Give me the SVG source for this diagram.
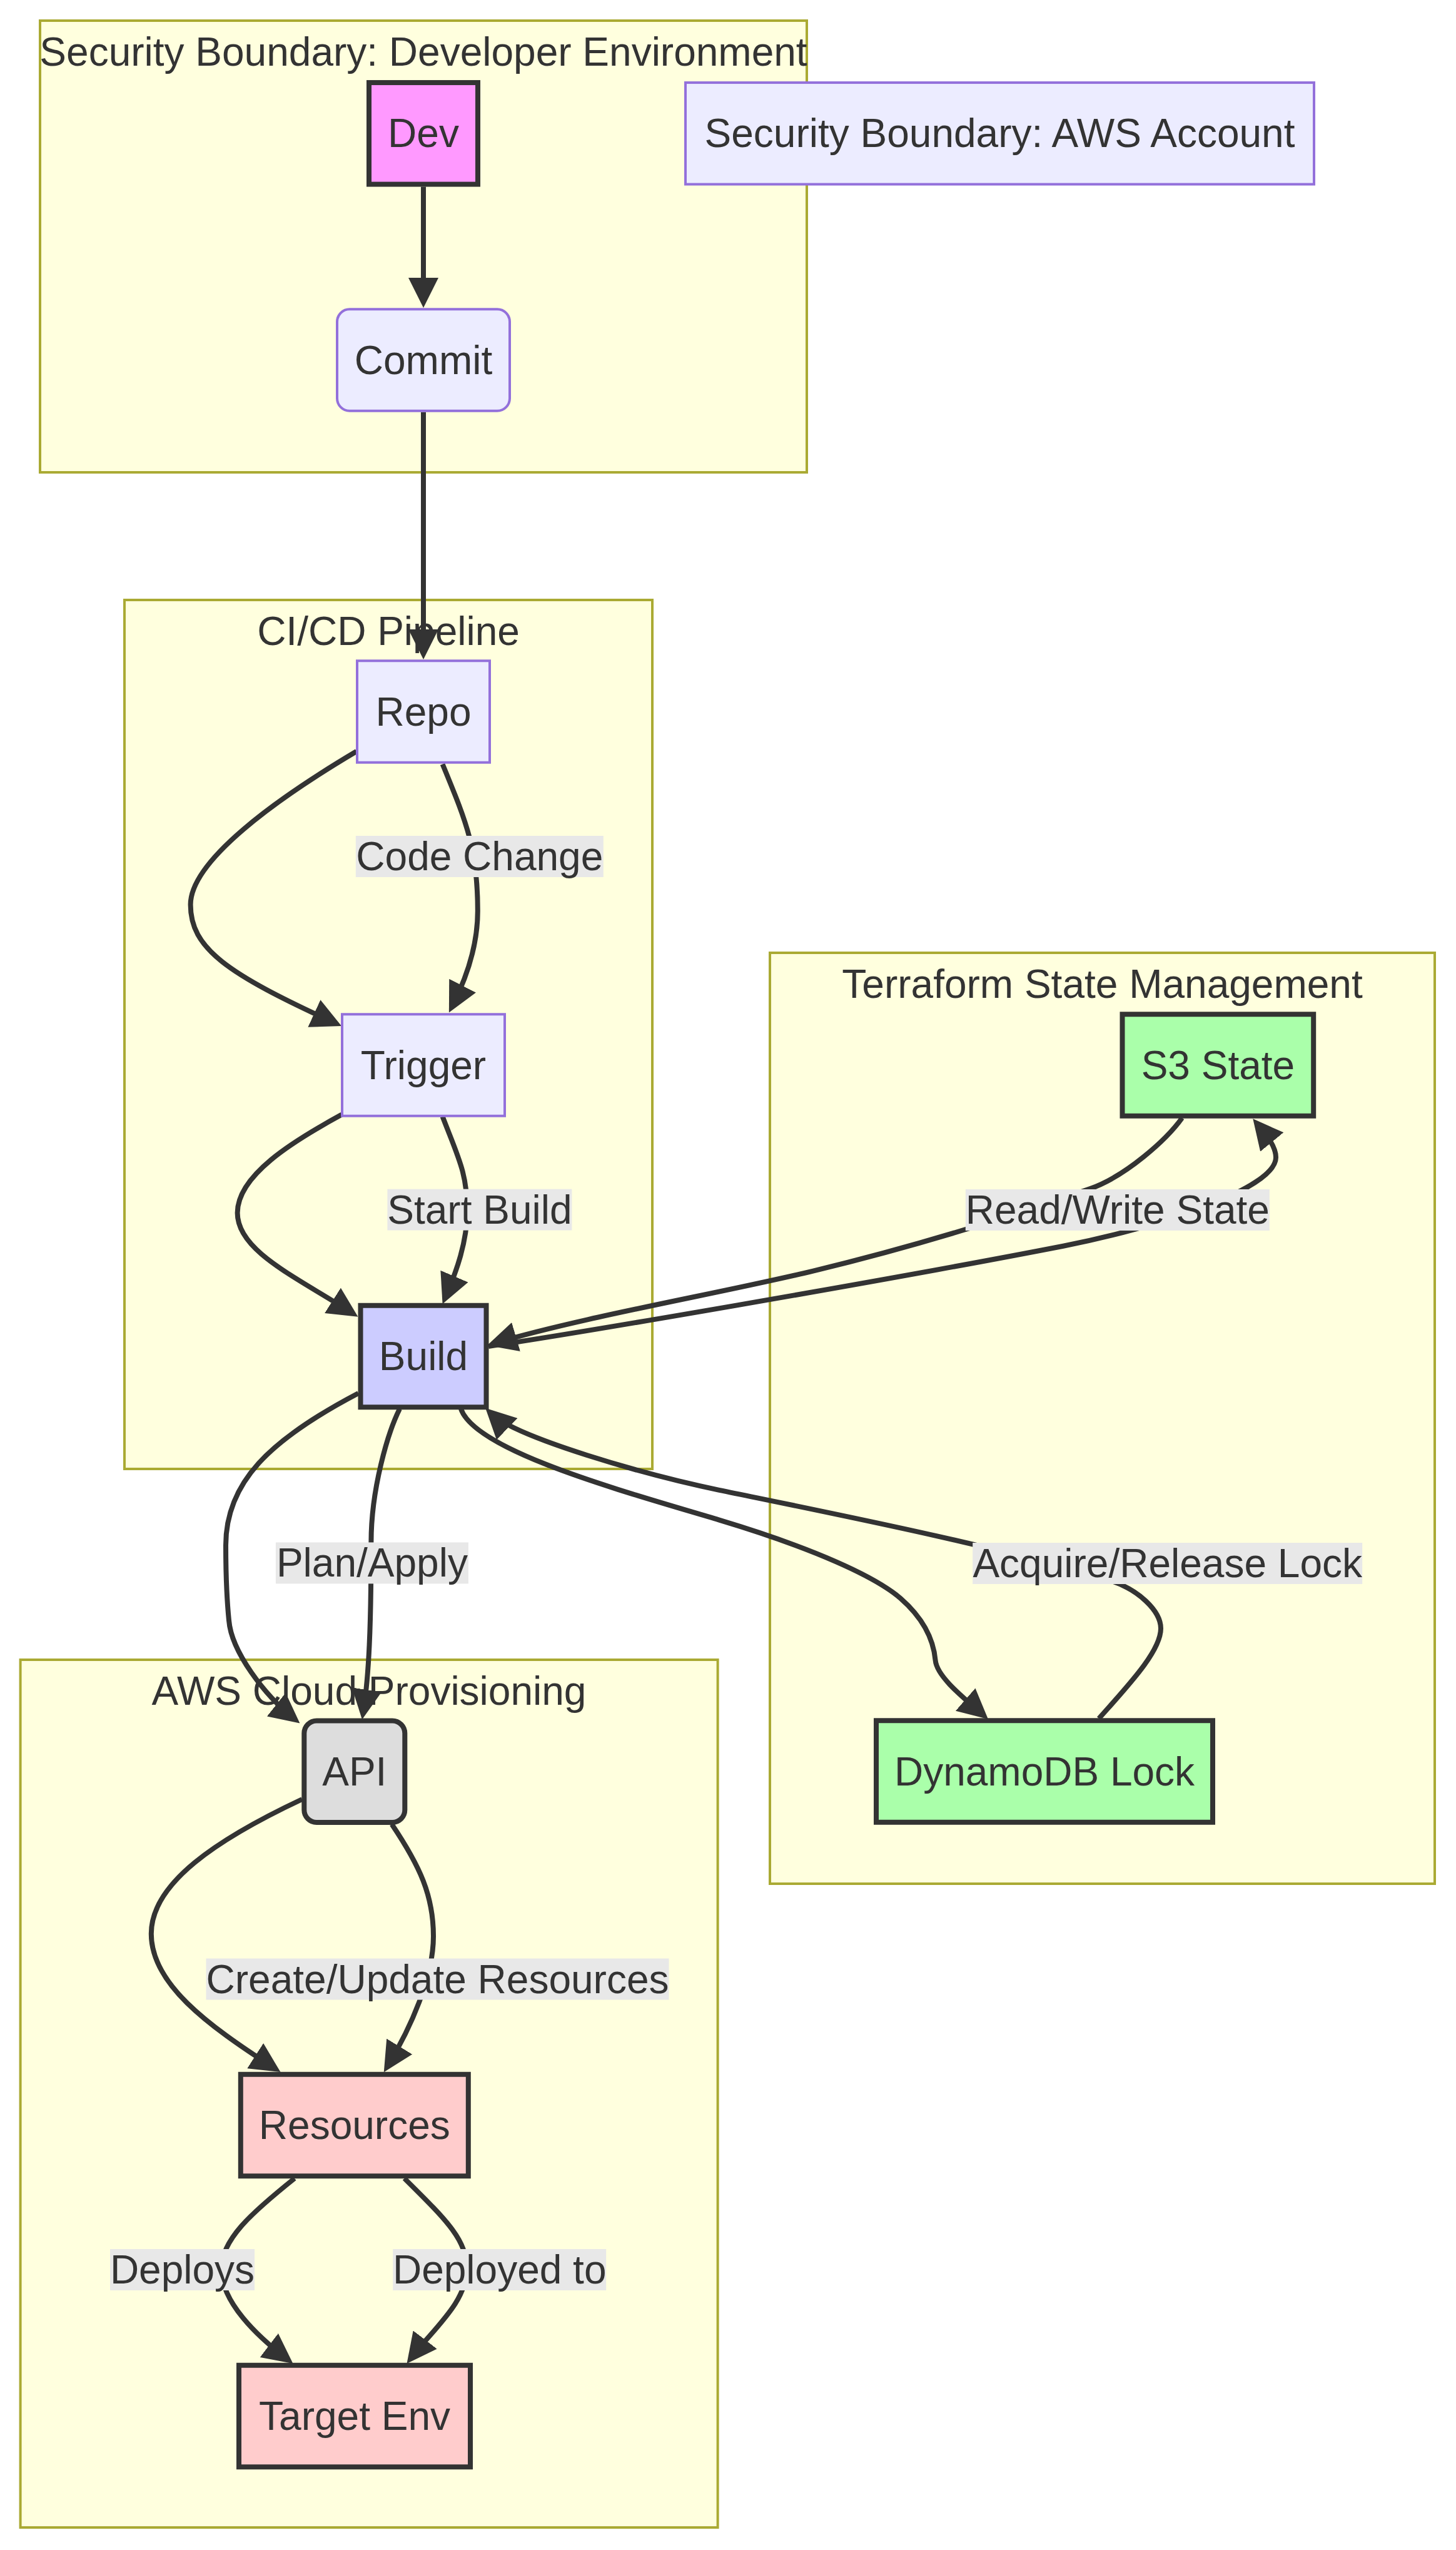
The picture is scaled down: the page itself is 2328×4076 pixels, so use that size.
<svg xmlns="http://www.w3.org/2000/svg" width="2328" height="4076" viewBox="0 0 2328 4076">
<style>
  text { font-family: "Liberation Sans", Arial, sans-serif; font-size: 64px; fill: #333333; text-anchor: middle; }
  .cluster { fill: #ffffde; stroke: #aaaa33; stroke-width: 4; }
  .def { fill: #ECECFF; stroke: #9370DB; stroke-width: 4; }
  .bold { stroke: #333333; stroke-width: 8; }
  .edge { fill: none; stroke: #333333; stroke-width: 8; }
  .elbg { fill: #e8e8e8; }
</style>
<defs>
  <marker id="arr" viewBox="0 0 10 10" refX="7.5" refY="5" markerWidth="48" markerHeight="48" markerUnits="userSpaceOnUse" orient="auto">
    <path d="M0,0 L10,5 L0,10 z" fill="#333333"/>
  </marker>
</defs>
<rect width="2328" height="4076" fill="#ffffff"/>

<g id="clusters">
  <g id="cluster-dev">
    <rect class="cluster" x="64" y="33" width="1226" height="722"/>
    <text x="677" y="105">Security Boundary: Developer Environment</text>
  </g>
  <g id="cluster-cicd">
    <rect class="cluster" x="199" y="959" width="844" height="1389"/>
    <text x="621" y="1031">CI/CD Pipeline</text>
  </g>
  <g id="cluster-terraform">
    <rect class="cluster" x="1231" y="1523" width="1063" height="1488"/>
    <text x="1762.5" y="1595">Terraform State Management</text>
  </g>
  <g id="cluster-aws">
    <rect class="cluster" x="32.6" y="2653" width="1115" height="1387"/>
    <text x="590" y="2725">AWS Cloud Provisioning</text>
  </g>
</g>

<g id="connectors">
  <path class="edge" marker-end="url(#arr)" d="M677,298.5 L677,480"/>
  <path class="edge" marker-end="url(#arr)" d="M677,658.75 L677,1042"/>
  <path class="edge" marker-end="url(#arr)" d="M570,1201 C441,1277.5 304.6,1376 304.6,1446 C304.6,1516 362.4,1555.8 535.1,1635"/>
  <path class="edge" marker-end="url(#arr)" d="M707.6,1221.4 C745.5,1313.9 763.8,1356 763.8,1456 C763.8,1506 750.5,1554.2 723.3,1607.7"/>
  <path class="edge" marker-end="url(#arr)" d="M546.4,1781.6 C467.4,1824.6 379.6,1878.8 379.6,1938.8 C379.6,1998.8 469.5,2039.1 562.3,2098.2"/>
  <path class="edge" marker-end="url(#arr)" d="M707.6,1784.7 C732.6,1850.1 747,1875 747,1935 C747,1985 730,2031.8 712.3,2073.2"/>
  <path class="edge" marker-end="url(#arr)" d="M1890,1787 C1865,1822 1800,1880 1743,1900 C1593,1952.5 1450,1995.6 1300,2031.6 C1150,2067.6 934.4,2104.5 790.5,2147.1"/>
  <path class="edge" marker-end="url(#arr)" d="M781,2152 C900,2135 1400,2050 1700,1991.7 C1850,1962.6 2040,1900 2040,1850 C2040,1830 2020.4,1809.2 2010.9,1797.6"/>
  <path class="edge" marker-end="url(#arr)" d="M737,2252 C760,2320 1000,2384.6 1150,2429.6 C1300,2474.6 1400,2520 1440,2555 C1480,2590 1493,2625 1495.6,2654 C1498,2680 1540.7,2713.9 1570.9,2740.1"/>
  <path class="edge" marker-end="url(#arr)" d="M1757,2747 C1802,2696 1856,2640 1856,2603 C1856,2575 1820,2540 1773.6,2526 C1582,2468.6 1345.8,2422.2 1150,2381.8 C1032.5,2357.6 825,2298 784.8,2259.1"/>
  <path class="edge" marker-end="url(#arr)" d="M573,2227 C430,2302 361,2370 361,2470 C361,2510 362,2550 366,2590 C370,2640 423,2709.7 470,2747"/>
  <path class="edge" marker-end="url(#arr)" d="M639,2252 C620,2290 593.4,2380 593.4,2465 C593.4,2600 590,2677.3 580.8,2736.6"/>
  <path class="edge" marker-end="url(#arr)" d="M483,2876 C347.25,2939.75 241.8,3010 241.8,3091 C241.8,3170 329.1,3235.3 438.4,3305.6"/>
  <path class="edge" marker-end="url(#arr)" d="M626.5,2916 C671.5,2983 693,3030 693,3095 C693,3160 656.4,3242.1 620,3301.9"/>
  <path class="edge" marker-end="url(#arr)" d="M471,3482 C401,3538 354,3580 354,3627 C354,3680 411.2,3734.3 458.9,3770.7"/>
  <path class="edge" marker-end="url(#arr)" d="M646.6,3482 C716.6,3551.5 746,3580 746,3627 C746,3680 694.3,3720.9 657.8,3768.5"/>
</g>

<g id="edge-labels">
  <g><rect class="elbg" x="568.8" y="1336" width="396" height="66"/><text x="766.8" y="1391">Code Change</text></g>
  <g><rect class="elbg" x="619.4" y="1900.6" width="295" height="66"/><text x="766.9" y="1955.6">Start Build</text></g>
  <g><rect class="elbg" x="1543.8" y="1901" width="486" height="66"/><text x="1786.8" y="1956">Read/Write State</text></g>
  <g><rect class="elbg" x="1555.2" y="2466" width="623" height="66"/><text x="1866.7" y="2521">Acquire/Release Lock</text></g>
  <g><rect class="elbg" x="440.9" y="2465.4" width="308" height="66"/><text x="594.9" y="2520.4">Plan/Apply</text></g>
  <g><rect class="elbg" x="329.5" y="3130.5" width="740" height="66"/><text x="699.5" y="3185.5">Create/Update Resources</text></g>
  <g><rect class="elbg" x="176" y="3595" width="231" height="66"/><text x="291.5" y="3650">Deploys</text></g>
  <g><rect class="elbg" x="628.2" y="3595" width="341" height="66"/><text x="798.7" y="3650">Deployed to</text></g>
</g>

<g id="nodes">
  <g id="node-dev"><rect class="bold" fill="#ff99ff" x="590" y="132.05" width="174" height="162.5"/><text x="677" y="235.3">Dev</text></g>
  <g id="node-aws-account"><rect class="def" x="1096" y="132.05" width="1005" height="162.5"/><text x="1598.5" y="235.3">Security Boundary: AWS Account</text></g>
  <g id="node-commit"><rect class="def" x="539" y="494.25" width="276" height="162.5" rx="20" ry="20"/><text x="677" y="597.5">Commit</text></g>
  <g id="node-repo"><rect class="def" x="571" y="1056.25" width="212" height="162.5"/><text x="677" y="1159.5">Repo</text></g>
  <g id="node-trigger"><rect class="def" x="547" y="1621.25" width="260" height="162.5"/><text x="677" y="1724.5">Trigger</text></g>
  <g id="node-build"><rect class="bold" fill="#ccccff" x="576.5" y="2086.75" width="201" height="162.5"/><text x="677" y="2190">Build</text></g>
  <g id="node-s3"><rect class="bold" fill="#aaffaa" x="1794.5" y="1621.25" width="305.7" height="162.5"/><text x="1947.4" y="1724.5">S3 State</text></g>
  <g id="node-dynamo"><rect class="bold" fill="#aaffaa" x="1401" y="2750.25" width="538" height="162.5"/><text x="1670" y="2853.5">DynamoDB Lock</text></g>
  <g id="node-api"><rect class="bold" fill="#dddddd" x="486.3" y="2750.45" width="161" height="162.5" rx="20" ry="20"/><text x="566.8" y="2853.7">API</text></g>
  <g id="node-resources"><rect class="bold" fill="#ffcccc" x="384.8" y="3315.75" width="364" height="162.5"/><text x="566.8" y="3419">Resources</text></g>
  <g id="node-target"><rect class="bold" fill="#ffcccc" x="382" y="3780.75" width="370" height="162.5"/><text x="567" y="3884">Target Env</text></g>
</g>
</svg>
